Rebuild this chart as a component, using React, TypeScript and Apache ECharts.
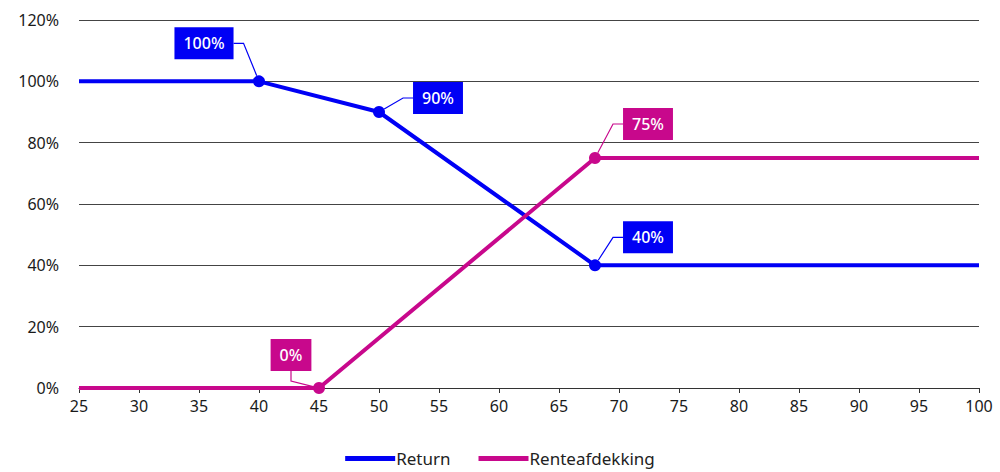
import React, { useEffect, useRef } from "react";
import * as echarts from "echarts";

const xReturn = [25, 40, 50, 68, 100];
const yReturn = [100, 100, 90, 40, 40];
const xRente = [25, 45, 68, 100];
const yRente = [0, 0, 75, 75];
const returnMarked = [1, 2, 3];
const renteMarked = [1, 2];
const seriesNames = ["Return", "Renteafdekking"];
const xTicks = { min: 25, max: 100, interval: 5 };
const yTicks = { min: 0, max: 120, interval: 20 };

const BLUE = "#0000F5";
const MAGENTA = "#C8088C";
const FONT = "'Noto Sans', sans-serif";

// label offsets (px) for the marked points
const returnOffsets = [
  { dx: -55, dy: -38 },
  { dx: 59, dy: -14 },
  { dx: 53, dy: -28 },
];
const renteOffsets = [
  { dx: -28, dy: -33 },
  { dx: 53, dy: -34 },
];

export default function App() {
  const ref = useRef<HTMLDivElement>(null);
  useEffect(() => {
    document.body.style.margin = "0";
    const chart = echarts.init(ref.current!, null, { renderer: "svg" });
    const retPairs = xReturn.map((x, i) => [x, yReturn[i]]);
    const rentePairs = xRente.map((x, i) => [x, yRente[i]]);
    const labelStyle = (bg: string) => ({
      show: true,
      position: "inside",
      formatter: (p: any) => p.value[1] + "%",
      color: "#fff",
      backgroundColor: bg,
      padding: [8, 9],
      fontSize: 16,
      fontFamily: FONT,
      fontWeight: 500,
    });
    chart.setOption({
      animation: false,
      grid: { left: 79, right: 21, top: 20, bottom: 84 },
      legend: {
        data: seriesNames.map((n) => ({ name: n, icon: "rect" })),
        bottom: 0,
        left: "center",
        itemWidth: 50,
        itemHeight: 5,
        itemGap: 28,
        textStyle: { fontSize: 17, color: "#222", fontFamily: FONT, padding: [0, 0, 0, -4] },
      },
      xAxis: {
        type: "value",
        min: xTicks.min,
        max: xTicks.max,
        interval: xTicks.interval,
        axisLine: { show: true, lineStyle: { color: "#333", width: 1 } },
        axisTick: { show: true, length: 5, lineStyle: { color: "#333" } },
        axisLabel: { color: "#1a1a1a", fontSize: 16, fontFamily: FONT, margin: 10 },
        splitLine: { show: false },
      },
      yAxis: {
        type: "value",
        min: yTicks.min,
        max: yTicks.max,
        interval: yTicks.interval,
        axisLine: { show: false },
        axisTick: { show: false },
        axisLabel: { color: "#1a1a1a", fontSize: 16, fontFamily: FONT, margin: 20, formatter: "{value}%" },
        splitLine: { show: true, lineStyle: { color: "#444", width: 1 } },
      },
      series: [
        {
          name: seriesNames[0],
          type: "line",
          data: retPairs,
          showSymbol: false,
          lineStyle: { color: BLUE, width: 4 },
          itemStyle: { color: BLUE },
          z: 3,
        },
        {
          name: seriesNames[1],
          type: "line",
          data: rentePairs,
          showSymbol: false,
          lineStyle: { color: MAGENTA, width: 4 },
          itemStyle: { color: MAGENTA },
          z: 3,
        },
        {
          name: seriesNames[0] + "-pts",
          type: "scatter",
          data: returnMarked.map((i) => retPairs[i]),
          symbolSize: 12,
          itemStyle: { color: BLUE, opacity: 1 },
          label: labelStyle(BLUE),
          labelLine: { show: true, length2: 10, lineStyle: { color: BLUE, width: 1.2 } },
          labelLayout: (p: any) => ({ ...returnOffsets[p.dataIndex], hideOverlap: false }),
          z: 5,
        },
        {
          name: seriesNames[1] + "-pts",
          type: "scatter",
          data: renteMarked.map((i) => rentePairs[i]),
          symbolSize: 12,
          itemStyle: { color: MAGENTA, opacity: 1 },
          label: labelStyle(MAGENTA),
          labelLine: { show: true, length2: 10, lineStyle: { color: MAGENTA, width: 1.2 } },
          labelLayout: (p: any) => ({ ...renteOffsets[p.dataIndex], hideOverlap: false }),
          z: 5,
        },
      ],
    });
    return () => chart.dispose();
  }, []);
  return <div ref={ref} style={{ width: 1000, height: 472 }} />;
}
